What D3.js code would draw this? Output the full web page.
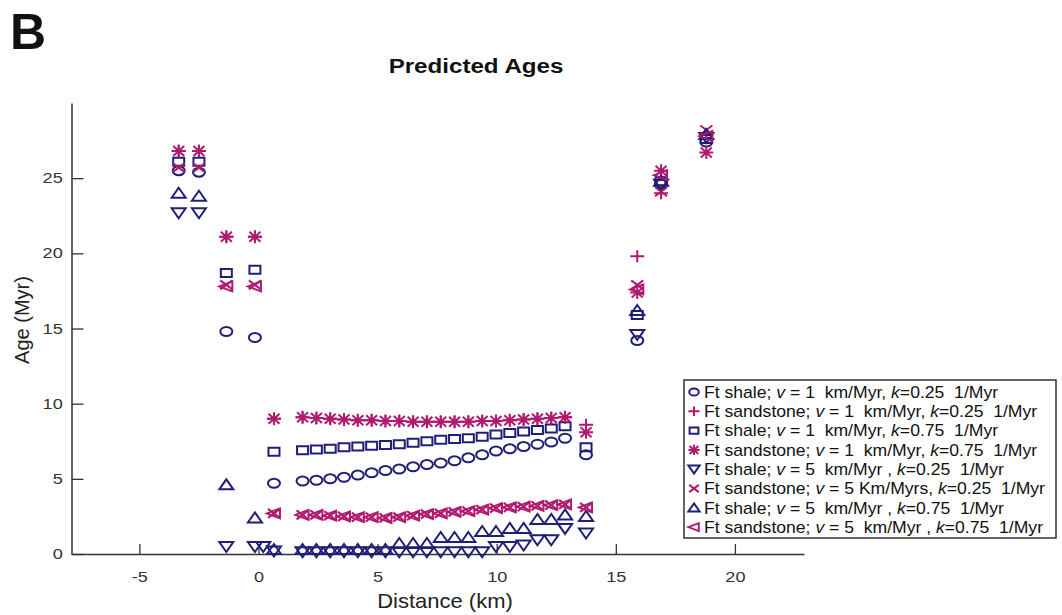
<!DOCTYPE html>
<html>
<head>
<meta charset="utf-8">
<script src="https://cdn.jsdelivr.net/npm/d3@7"></script>
<style>
  body { margin: 0; background: #fff; }
  text { font-family: "Liberation Sans", Arial, sans-serif; }
</style>
</head>
<body>
<svg width="1062" height="615"></svg>
<script>
// Predicted Ages (panel B)

var distance = [-3.35, -2.5, -1.35, -0.15, 0.2, 0.65,
  1.85, 2.43, 3.01, 3.59, 4.17, 4.75, 5.33, 5.91, 6.49, 7.07,
  7.65, 8.23, 8.81, 9.39, 9.97, 10.55, 11.13, 11.71, 12.29, 12.87,
  13.75, 15.9, 16.9, 18.8];

var shaleV1K025 = [25.5, 25.4, 14.8, 14.4, null, 4.7,
  4.85, 4.9, 5.0, 5.1, 5.25, 5.4, 5.55, 5.65, 5.8, 5.95,
  6.05, 6.2, 6.4, 6.6, 6.85, 7.0, 7.15, 7.3, 7.45, 7.7,
  6.6, 14.2, 24.6, 27.4];
var sandV1K025 = [26.8, 26.8, 21.1, 21.1, null, 9.0,
  9.1, 9.05, 9.0, 8.95, 8.9, 8.9, 8.85, 8.85, 8.8, 8.8,
  8.8, 8.8, 8.8, 8.85, 8.85, 8.9, 8.95, 9.0, 9.05, 9.1,
  8.6, 19.8, 24.0, 27.9];
var shaleV1K075 = [26.1, 26.1, 18.7, 18.9, null, 6.8,
  6.9, 6.95, 7.0, 7.1, 7.15, 7.2, 7.25, 7.3, 7.4, 7.5,
  7.6, 7.65, 7.7, 7.8, 7.95, 8.05, 8.15, 8.25, 8.35, 8.5,
  7.1, 15.9, 24.8, 27.6];
var sandV1K075 = [26.8, 26.8, 21.1, 21.1, null, 9.0,
  9.1, 9.05, 9.0, 8.95, 8.9, 8.9, 8.85, 8.85, 8.8, 8.8,
  8.8, 8.8, 8.8, 8.85, 8.85, 8.9, 8.95, 9.0, 9.05, 9.1,
  8.1, 17.4, 25.5, 26.7];
var shaleV5K025 = [22.7, 22.7, 0.5, 0.5, 0.5, 0.2,
  0.15, 0.15, 0.15, 0.15, 0.15, 0.15, 0.15, 0.15, 0.15, 0.15,
  0.15, 0.15, 0.15, 0.15, 0.5, 0.5, 0.6, 0.95, 0.95, 1.7,
  1.4, 14.6, 24.6, 27.7];
var sandV5K025 = [25.7, 25.7, 17.9, 17.9, null, 2.7,
  2.6, 2.6, 2.55, 2.5, 2.45, 2.45, 2.4, 2.45, 2.55, 2.65,
  2.7, 2.8, 2.85, 2.95, 3.05, 3.1, 3.15, 3.2, 3.25, 3.3,
  3.1, 17.9, 24.1, 28.2];
var shaleV5K075 = [24.0, 23.8, 4.6, 2.4, null, 0.3,
  0.3, 0.3, 0.3, 0.3, 0.3, 0.3, 0.3, 0.7, 0.7, 0.7,
  1.1, 1.1, 1.1, 1.5, 1.5, 1.7, 1.7, 2.3, 2.3, 2.6,
  2.5, 16.2, 24.8, 27.9];
var sandV5K075 = [null, null, 17.8, 17.8, null, 2.7,
  2.6, 2.6, 2.55, 2.5, 2.45, 2.45, 2.4, 2.45, 2.55, 2.65,
  2.7, 2.8, 2.85, 2.95, 3.05, 3.1, 3.15, 3.2, 3.25, 3.3,
  3.1, 17.6, 25.2, 27.8];

var xTicks = [-5, 0, 5, 10, 15, 20];
var yTicks = [0, 5, 10, 15, 20, 25];

var navy = "#1f1f78";
var magenta = "#b01a6e";

// legend: text parts, marker, colour, values
var series = [
  {marker: "circle", color: navy, values: shaleV1K025,
   label: ["Ft shale; ", "v", " = 1  km/Myr, ", "k", "=0.25  1/Myr"]},
  {marker: "plus", color: magenta, values: sandV1K025,
   label: ["Ft sandstone; ", "v", " = 1  km/Myr, ", "k", "=0.25  1/Myr"]},
  {marker: "square", color: navy, values: shaleV1K075,
   label: ["Ft shale; ", "v", " = 1  km/Myr, ", "k", "=0.75  1/Myr"]},
  {marker: "asterisk", color: magenta, values: sandV1K075,
   label: ["Ft sandstone; ", "v", " = 1  km/Myr, ", "k", "=0.75  1/Myr"]},
  {marker: "down", color: navy, values: shaleV5K025,
   label: ["Ft shale; ", "v", " = 5  km/Myr , ", "k", "=0.25  1/Myr"]},
  {marker: "cross", color: magenta, values: sandV5K025,
   label: ["Ft sandstone; ", "v", " = 5 Km/Myrs, ", "k", "=0.25  1/Myr"]},
  {marker: "up", color: navy, values: shaleV5K075,
   label: ["Ft shale; ", "v", " = 5  km/Myr , ", "k", "=0.75  1/Myr"]},
  {marker: "left", color: magenta, values: sandV5K075,
   label: ["Ft sandstone; ", "v", " = 5  km/Myr , ", "k", "=0.75  1/Myr"]}
];

// marker outlines, s = size factor
function markerPath(type, s) {
  var p = d3.path();
  switch (type) {
    case "circle":
      return "M" + (-6 * s) + ",0A" + (6 * s) + "," + (4.5 * s) + " 0 1,0 " + (6 * s) + ",0A" + (6 * s) + "," + (4.5 * s) + " 0 1,0 " + (-6 * s) + ",0Z";
    case "square":
      p.rect(-5.5 * s, -4 * s, 11 * s, 8 * s); break;
    case "up":
      p.moveTo(0, -5.5 * s); p.lineTo(7 * s, 4.5 * s); p.lineTo(-7 * s, 4.5 * s); p.closePath(); break;
    case "down":
      p.moveTo(0, 5.5 * s); p.lineTo(7 * s, -4.5 * s); p.lineTo(-7 * s, -4.5 * s); p.closePath(); break;
    case "left":
      p.moveTo(-7 * s, 0); p.lineTo(6 * s, -5 * s); p.lineTo(6 * s, 5 * s); p.closePath(); break;
    case "plus":
      p.moveTo(-7 * s, 0); p.lineTo(7 * s, 0); p.moveTo(0, -6 * s); p.lineTo(0, 6 * s); break;
    case "cross":
      p.moveTo(-6 * s, -4.5 * s); p.lineTo(6 * s, 4.5 * s); p.moveTo(-6 * s, 4.5 * s); p.lineTo(6 * s, -4.5 * s); break;
    case "asterisk":
      p.moveTo(-7 * s, 0); p.lineTo(7 * s, 0); p.moveTo(0, -6.5 * s); p.lineTo(0, 6.5 * s);
      p.moveTo(-5.5 * s, -5 * s); p.lineTo(5.5 * s, 5 * s); p.moveTo(-5.5 * s, 5 * s); p.lineTo(5.5 * s, -5 * s); break;
  }
  return p.toString();
}

var svg = d3.select("svg");
var axisColor = "#333";

var xScale = d3.scaleLinear().domain([-7.85, 22.9]).range([71.5, 804]);
var yScale = d3.scaleLinear().domain([0, 30]).range([554, 103]);

// x axis, ticks pointing up
var xAxis = d3.axisBottom(xScale).tickValues(xTicks).tickSizeInner(-10).tickSizeOuter(0).tickPadding(18)
  .tickFormat(function(d) { return String(d); });
var xg = svg.append("g").attr("transform", "translate(0," + yScale(0) + ")").call(xAxis);
xg.select(".domain").attr("stroke", axisColor).attr("stroke-width", 1.5);
xg.selectAll(".tick line").attr("stroke", axisColor).attr("stroke-width", 1.3);
xg.selectAll(".tick text").attr("font-size", 14.5).attr("fill", axisColor)
  .attr("font-family", "Liberation Sans, Arial, sans-serif")
  .attr("transform", "scale(1.25,1)");

// y axis, ticks pointing right
var yAxis = d3.axisLeft(yScale).tickValues(yTicks).tickSizeInner(-12).tickSizeOuter(0).tickPadding(7);
var yg = svg.append("g").attr("transform", "translate(" + xScale.range()[0] + ",0)").call(yAxis);
yg.select(".domain").attr("stroke", axisColor).attr("stroke-width", 1.5);
yg.selectAll(".tick line").attr("stroke", axisColor).attr("stroke-width", 1.3);
yg.selectAll(".tick text").attr("font-size", 14.5).attr("fill", axisColor)
  .attr("font-family", "Liberation Sans, Arial, sans-serif")
  .attr("transform", "scale(1.25,1)");

// titles
svg.append("text").attr("x", 10).attr("y", 49)
  .attr("font-size", 50).attr("font-weight", "bold").attr("fill", "#111")
  .text("B");

svg.append("text").attr("transform", "translate(476,73) scale(1.15,1)")
  .attr("text-anchor", "middle").attr("font-size", 21).attr("font-weight", "bold").attr("fill", "#111")
  .text("Predicted Ages");

svg.append("text").attr("transform", "translate(445,608) scale(1.1,1)")
  .attr("text-anchor", "middle").attr("font-size", 20).attr("fill", "#222")
  .text("Distance (km)");

svg.append("text").attr("transform", "translate(29,320) rotate(-90)")
  .attr("text-anchor", "middle").attr("font-size", 20).attr("fill", "#222")
  .text("Age (Myr)");

// points
series.forEach(function(s) {
  var pts = distance.map(function(d, i) { return {x: d, y: s.values[i]}; })
    .filter(function(d) { return d.y !== null; });
  svg.append("g").selectAll("path")
    .data(pts)
    .enter()
    .append("path")
    .attr("d", markerPath(s.marker, 1))
    .attr("transform", function(d) { return "translate(" + xScale(d.x) + "," + yScale(d.y) + ")"; })
    .attr("fill", "none")
    .attr("stroke", s.color)
    .attr("stroke-width", 2);
});

// legend
var legend = svg.append("g");
legend.append("rect").attr("x", 684).attr("y", 380).attr("width", 372).attr("height", 158)
  .attr("fill", "#fff").attr("stroke", "#333").attr("stroke-width", 1.5);

series.forEach(function(s, i) {
  var cy = 392 + i * 19.3;
  legend.append("path")
    .attr("d", markerPath(s.marker, 0.8))
    .attr("transform", "translate(694," + cy + ")")
    .attr("fill", "none").attr("stroke", s.color).attr("stroke-width", 2);
  var t = legend.append("text")
    .attr("transform", "translate(704," + (cy + 5.8) + ") scale(1.1,1)")
    .attr("font-size", 16).attr("fill", "#111")
    .style("white-space", "pre");
  s.label.forEach(function(part, j) {
    t.append("tspan").attr("font-style", (j === 1 || j === 3) ? "italic" : "normal").text(part);
  });
});
</script>
</body>
</html>
